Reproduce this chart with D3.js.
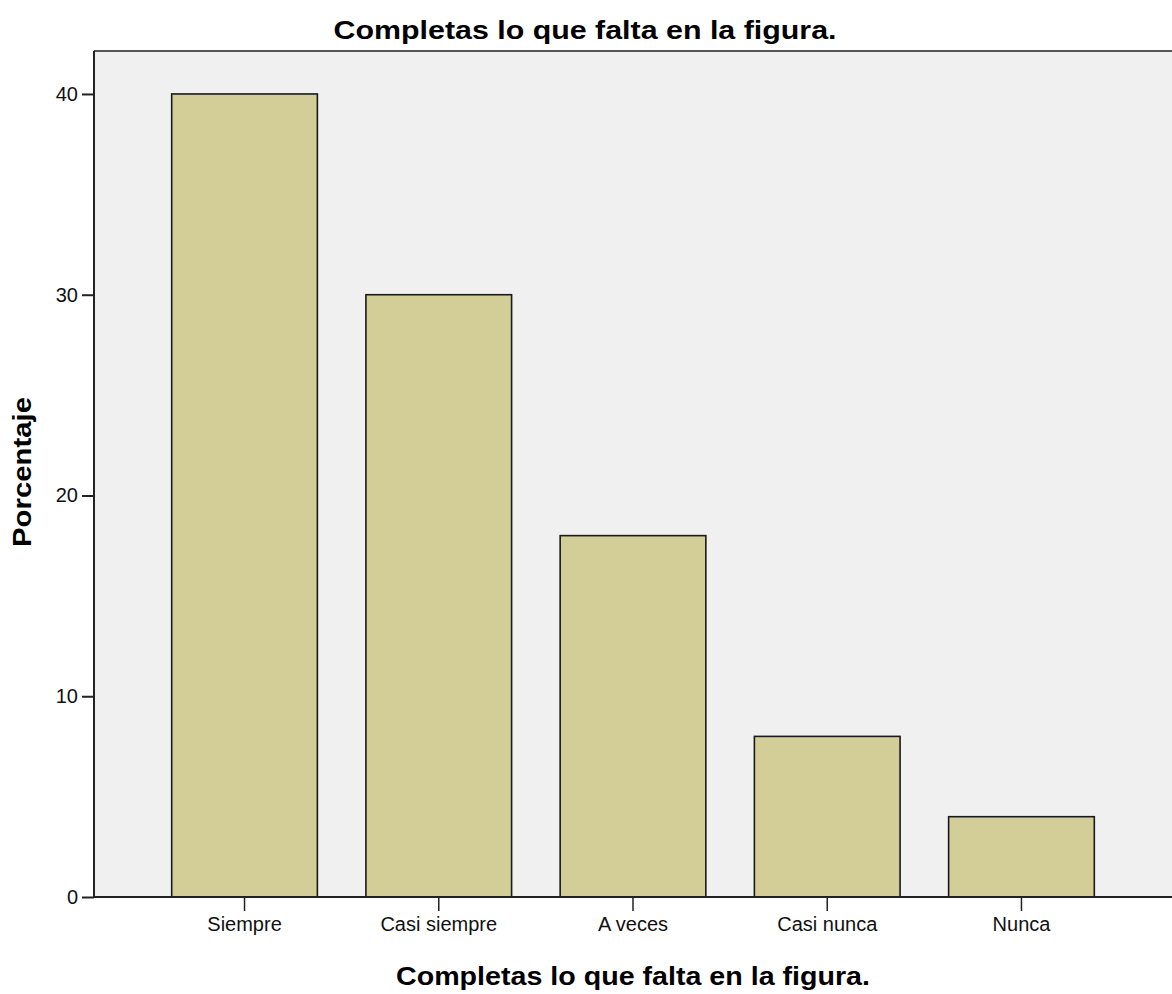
<!DOCTYPE html>
<html>
<head>
<meta charset="utf-8">
<script src="https://cdn.jsdelivr.net/npm/d3@7"></script>
<style>
  html, body { margin: 0; padding: 0; background: #ffffff; }
  svg { display: block; font-family: "Liberation Sans", Arial, sans-serif; }
</style>
</head>
<body>
<svg id="chart" width="1172" height="994"></svg>
<script>
const categories = ["Siempre", "Casi siempre", "A veces", "Casi nunca", "Nunca"];
const percentages = [40, 30, 18, 8, 4];
const yTicks = [0, 10, 20, 30, 40];
const chartTitle = "Completas lo que falta en la figura.";
const xTitle = "Completas lo que falta en la figura.";
const yTitle = "Porcentaje";
const yMax = 42.14;

const W = 1172, H = 994;
const m = { left: 94, top: 51, right: 0, bottom: 97 };
const svg = d3.select("#chart");

const x = d3.scaleBand().domain(categories)
  .range([m.left, W - m.right]).paddingInner(0.25).paddingOuter(0.4);
const y = d3.scaleLinear().domain([0, yMax]).range([H - m.bottom, m.top]);

// plot background
svg.append("rect")
  .attr("x", m.left).attr("y", m.top)
  .attr("width", W - m.right - m.left).attr("height", H - m.bottom - m.top)
  .attr("fill", "#f0f0f0");
// top frame line
svg.append("line")
  .attr("x1", m.left).attr("x2", W).attr("y1", m.top).attr("y2", m.top)
  .attr("stroke", "#555").attr("stroke-width", 2);

// bars
svg.append("g").selectAll("rect").data(categories).join("rect")
  .attr("x", d => x(d))
  .attr("y", (d, i) => y(percentages[i]))
  .attr("width", x.bandwidth())
  .attr("height", (d, i) => y(0) - y(percentages[i]))
  .attr("fill", "#d3ce97")
  .attr("stroke", "#1a1a1a").attr("stroke-width", 1.6);

// y axis
const yAxis = svg.append("g").attr("transform", `translate(${m.left},0)`)
  .call(d3.axisLeft(y).tickValues(yTicks).tickSize(12).tickPadding(4).tickSizeOuter(0));
yAxis.select(".domain").remove();
yAxis.append("line").attr("x1", 0).attr("x2", 0).attr("y1", m.top).attr("y2", y(0))
  .attr("stroke", "#222").attr("stroke-width", 2);
yAxis.selectAll(".tick line").attr("stroke", "#222").attr("stroke-width", 2);
yAxis.selectAll(".tick text").attr("fill", "#111").attr("font-size", 20);

// x axis
const xAxis = svg.append("g").attr("transform", `translate(0,${y(0)})`)
  .call(d3.axisBottom(x).tickSize(14).tickPadding(6).tickSizeOuter(0));
xAxis.select(".domain").remove();
xAxis.append("line").attr("x1", m.left).attr("x2", W).attr("y1", 0).attr("y2", 0)
  .attr("stroke", "#222").attr("stroke-width", 2);
xAxis.selectAll(".tick line").attr("stroke", "#222").attr("stroke-width", 1.5);
xAxis.selectAll(".tick text").attr("fill", "#111").attr("font-size", 20);

// titles
svg.append("text").attr("x", 585).attr("y", 39).attr("text-anchor", "middle")
  .attr("font-size", 26).attr("font-weight", "bold").attr("fill", "#000")
  .attr("textLength", 503).attr("lengthAdjust", "spacingAndGlyphs")
  .text(chartTitle);
svg.append("text").attr("x", (m.left + W) / 2).attr("y", 985).attr("text-anchor", "middle")
  .attr("font-size", 26).attr("font-weight", "bold").attr("fill", "#000")
  .attr("textLength", 474).attr("lengthAdjust", "spacingAndGlyphs")
  .text(xTitle);
svg.append("text").attr("transform", "translate(31,472) rotate(-90)").attr("text-anchor", "middle")
  .attr("font-size", 26).attr("font-weight", "bold").attr("fill", "#000")
  .attr("textLength", 150).attr("lengthAdjust", "spacingAndGlyphs")
  .text(yTitle);
</script>
</body>
</html>
